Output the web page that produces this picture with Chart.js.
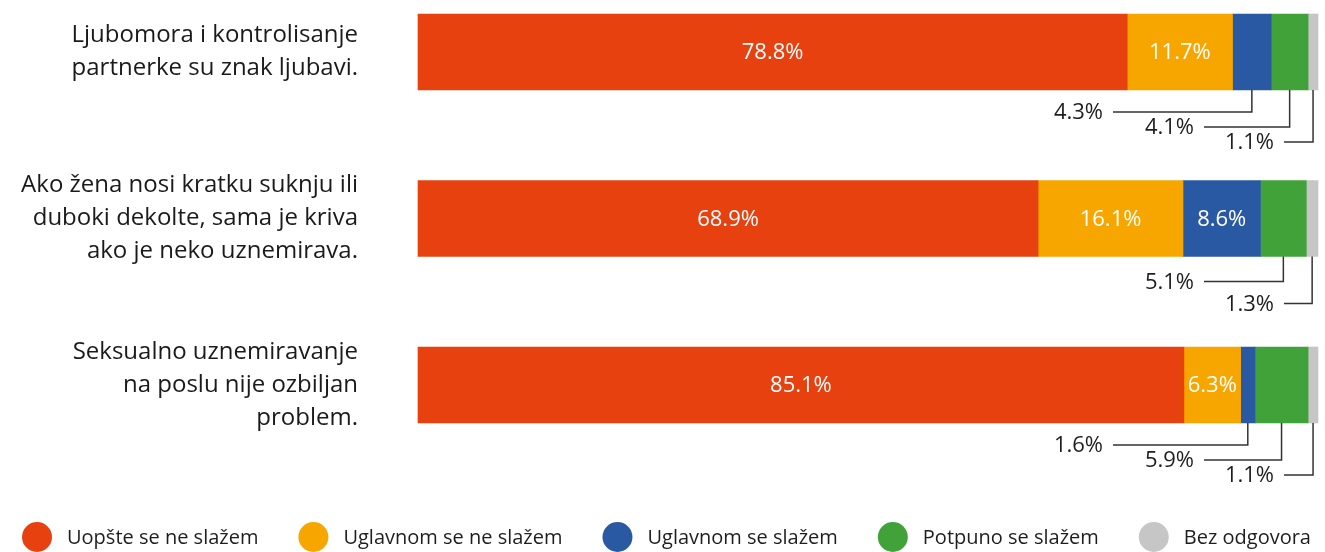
<!DOCTYPE html>
<html><head><meta charset="utf-8">
<script src="https://cdn.jsdelivr.net/npm/chart.js@4"></script>
<style>html,body{margin:0;padding:0;background:#fff}#wrap{width:1325px;height:552px;position:relative}</style>
</head><body><div id="wrap"><canvas id="c"></canvas></div>
<script>
const categories = [
  ["Ljubomora i kontrolisanje", "partnerke su znak ljubavi."],
  ["Ako žena nosi kratku suknju ili", "duboki dekolte, sama je kriva", "ako je neko uznemirava."],
  ["Seksualno uznemiravanje", "na poslu nije ozbiljan", "problem."]
];
const seriesNames = ["Uopšte se ne slažem", "Uglavnom se ne slažem", "Uglavnom se slažem", "Potpuno se slažem", "Bez odgovora"];
const uopsteSeNeSlazem   = [78.8, 68.9, 85.1];
const uglavnomSeNeSlazem = [11.7, 16.1, 6.3];
const uglavnomSeSlazem   = [4.3, 8.6, 1.6];
const potpunoSeSlazem    = [4.1, 5.1, 5.9];
const bezOdgovora        = [1.1, 1.3, 1.1];
const seriesColors = ['#E6410F', '#F7A600', '#2A59A4', '#41A23A', '#C6C6C6'];

const FONT = "'Open Sans', sans-serif";
const allSeries = [uopsteSeNeSlazem, uglavnomSeNeSlazem, uglavnomSeSlazem, potpunoSeSlazem, bezOdgovora];

const fmt = v => v.toFixed(1) + '%';

const labelPlugin = {
  id: 'barLabels',
  afterDatasetsDraw(chart) {
    const ctx = chart.ctx;
    const area = chart.chartArea;
    const lineStartOffsets = [205, 114, 34];
    ctx.save();
    for (let i = 0; i < chart.data.labels.length; i++) {
      const smalls = [];
      chart.data.datasets.forEach((ds, d) => {
        const el = chart.getDatasetMeta(d).data[i];
        const v = ds.data[i];
        const cx = (el.x + el.base) / 2;
        if (v >= 6) {
          ctx.fillStyle = '#ffffff';
          ctx.font = '22px ' + FONT;
          ctx.textAlign = 'center';
          ctx.textBaseline = 'middle';
          ctx.fillText(fmt(v), cx, el.y + 1);
        } else {
          smalls.push({cx, bottom: el.y + el.height / 2, v});
        }
      });
      const start = 3 - smalls.length;
      const offs = smalls.length === 3 ? [22, 37, 52] : (smalls.length === 2 ? [25, 47] : [30]);
      smalls.forEach((s, k) => {
        const lvl = start + k;
        const ly = s.bottom + offs[k];
        const lx = area.right - lineStartOffsets[lvl];
        ctx.strokeStyle = '#333333';
        ctx.lineWidth = 1.5;
        ctx.beginPath();
        ctx.moveTo(lx, ly);
        ctx.lineTo(s.cx, ly);
        ctx.lineTo(s.cx, s.bottom);
        ctx.stroke();
        ctx.fillStyle = '#1e1e1e';
        ctx.font = '22px ' + FONT;
        ctx.textAlign = 'right';
        ctx.textBaseline = 'middle';
        ctx.fillText(fmt(s.v), lx - 10, ly + 1);
      });
    }
    ctx.restore();
  }
};

const legendPlugin = {
  id: 'circleLegend',
  afterDraw(chart) {
    const ctx = chart.ctx;
    const r = 15, gapText = 15, gapItem = 40, cy = 537;
    ctx.save();
    ctx.font = '20px ' + FONT;
    const items = chart.data.datasets.map(ds => ({label: ds.label, color: ds.backgroundColor, w: ctx.measureText(ds.label).width}));
    let total = 0;
    items.forEach((it, i) => { total += 2 * r + gapText + it.w + (i ? gapItem : 0); });
    let x = (chart.width - total) / 2 + 4;
    items.forEach((it, i) => {
      if (i) x += gapItem;
      ctx.fillStyle = it.color;
      ctx.beginPath();
      ctx.arc(x + r, cy, r, 0, Math.PI * 2);
      ctx.fill();
      x += 2 * r + gapText;
      ctx.fillStyle = '#1e1e1e';
      ctx.textAlign = 'left';
      ctx.textBaseline = 'middle';
      ctx.fillText(it.label, x, cy + 1);
      x += it.w;
    });
    ctx.restore();
  }
};

new Chart(document.getElementById('c'), {
  type: 'bar',
  data: {
    labels: categories,
    datasets: seriesNames.map((name, i) => ({
      label: name,
      data: allSeries[i],
      backgroundColor: seriesColors[i],
      borderWidth: 0,
      barThickness: 76,
      clip: false
    }))
  },
  options: {
    indexAxis: 'y',
    responsive: true,
    maintainAspectRatio: false,
    animation: false,
    layout: {padding: {left: 0, right: 7, top: 52, bottom: 167}},
    plugins: {legend: {display: false}, tooltip: {enabled: false}},
    scales: {
      x: {stacked: true, min: 0, max: 100, display: false},
      y: {
        stacked: true,
        offset: false,
        grid: {display: false, drawTicks: false},
        border: {display: false},
        ticks: {padding: 60, color: '#1a1a1a', font: {family: FONT, size: 24, lineHeight: '33px'}},
        afterFit(s) { s.width = 418; s.paddingTop = 0; s.paddingBottom = 0; }
      }
    }
  },
  plugins: [labelPlugin, legendPlugin]
});
</script>
</body></html>
